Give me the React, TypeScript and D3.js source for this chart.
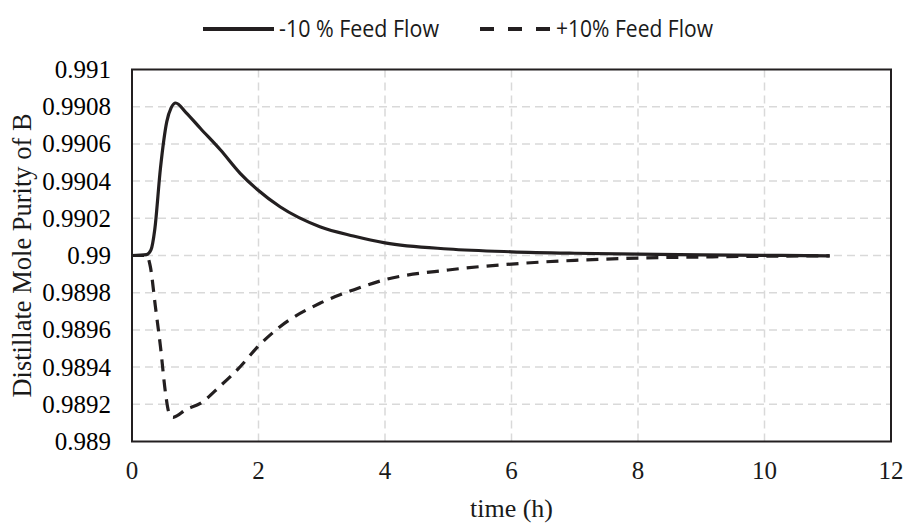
import React, { useEffect, useRef } from 'react'
import * as d3 from 'd3'

const minusTime = [0, 0.23, 0.3, 0.36, 0.45, 0.55, 0.62, 0.69, 0.85, 1.08, 1.4, 1.71, 1.99, 2.34, 2.97, 3.5, 4, 5, 6, 7, 8, 9, 10, 11.03]
const minusPurity = [0.99, 0.990005, 0.99003, 0.99014, 0.99047, 0.99072, 0.990795, 0.99082, 0.99077, 0.990684, 0.990567, 0.990442, 0.990352, 0.990262, 0.990155, 0.990105, 0.990068, 0.990035, 0.99002, 0.990012, 0.990007, 0.990003, 0.990001, 0.989998]

const plusTime = [0, 0.23, 0.29, 0.37, 0.45, 0.53, 0.58, 0.65, 0.86, 1.08, 1.4, 1.71, 1.99, 2.34, 2.97, 3.5, 4, 5, 6, 7, 8, 9, 10, 11.03]
const plusPurity = [0.99, 0.99, 0.98994, 0.989725, 0.98951, 0.98926, 0.98916, 0.98913, 0.989173, 0.989205, 0.9893, 0.989402, 0.98951, 0.989617, 0.989743, 0.989815, 0.98987, 0.989922, 0.989954, 0.989974, 0.989986, 0.989992, 0.989996, 0.989998]

const xTicks = [0, 2, 4, 6, 8, 10, 12]
const yTicks = [0.989, 0.9892, 0.9894, 0.9896, 0.9898, 0.99, 0.9902, 0.9904, 0.9906, 0.9908, 0.991]

const seriesNames = ['-10 % Feed Flow', '+10% Feed Flow']

const W = 908
const H = 527
const margin = { left: 132, right: 17, top: 69.5, bottom: 85.5 }

const x = d3.scaleLinear().domain([0, 12]).range([margin.left, W - margin.right])
const y = d3.scaleLinear().domain([0.989, 0.991]).range([H - margin.bottom, margin.top])

const serif = 'Liberation Serif, serif'

const App = () => {
  const ref = useRef(null)

  useEffect(() => {
    const svg = d3.select(ref.current).select('g.chart')
    svg.selectAll('*').remove()

    const ink = '#231f20'
    const grid = svg.append('g')
    grid.selectAll('line.v')
      .data(xTicks.slice(1, -1))
      .join('line')
      .attr('x1', d => x(d)).attr('x2', d => x(d))
      .attr('y1', y(0.991)).attr('y2', y(0.989))
      .attr('stroke', '#d9d9d9').attr('stroke-width', 1.5).attr('stroke-dasharray', '8,5')
    grid.selectAll('line.h')
      .data(yTicks.slice(1, -1))
      .join('line')
      .attr('x1', x(0)).attr('x2', x(12))
      .attr('y1', d => y(d)).attr('y2', d => y(d))
      .attr('stroke', '#d9d9d9').attr('stroke-width', 1.5).attr('stroke-dasharray', '8,5')

    svg.append('rect')
      .attr('x', x(0)).attr('y', y(0.991))
      .attr('width', x(12) - x(0)).attr('height', y(0.989) - y(0.991))
      .attr('fill', 'none').attr('stroke', ink).attr('stroke-width', 2)

    const line = d3.line<[number, number]>()
      .x(d => x(d[0])).y(d => y(d[1]))
      .curve(d3.curveMonotoneX)

    svg.append('path')
      .datum(plusTime.map((t, i) => [t, plusPurity[i]] as [number, number]))
      .attr('d', line)
      .attr('fill', 'none').attr('stroke', ink).attr('stroke-width', 3.2)
      .attr('stroke-dasharray', '12,8')

    svg.append('path')
      .datum(minusTime.map((t, i) => [t, minusPurity[i]] as [number, number]))
      .attr('d', line)
      .attr('fill', 'none').attr('stroke', ink).attr('stroke-width', 3.2)

    const yAxis = svg.append('g')
      .attr('font-family', serif).attr('font-size', 25)
    yAxis.selectAll('text')
      .data(yTicks)
      .join('text')
      .attr('x', 111).attr('y', d => y(d) + 8.5)
      .attr('text-anchor', 'end')
      .text(d => String(+d.toFixed(4)))

    // legend
    const sans = '"Liberation Sans Narrow", "Open Sans", sans-serif'
    const leg = svg.append('g')
    leg.append('line')
      .attr('x1', 203).attr('x2', 274).attr('y1', 29).attr('y2', 29)
      .attr('stroke', ink).attr('stroke-width', 4)
    leg.append('text')
      .attr('x', 279).attr('y', 37)
      .style('font-family', sans).style('font-size', '23px').attr('fill', '#1a1a1a')
      .attr('textLength', 160).attr('lengthAdjust', 'spacingAndGlyphs')
      .text(seriesNames[0])
    leg.append('line')
      .attr('x1', 480).attr('x2', 550).attr('y1', 29).attr('y2', 29)
      .attr('stroke', ink).attr('stroke-width', 4).attr('stroke-dasharray', '14,14')
    leg.append('text')
      .attr('x', 556).attr('y', 37)
      .style('font-family', sans).style('font-size', '23px').attr('fill', '#1a1a1a')
      .attr('textLength', 157).attr('lengthAdjust', 'spacingAndGlyphs')
      .text(seriesNames[1])
  }, [])

  return (
    <svg width={W} height={H} ref={ref} style={{ position: 'absolute', left: 0, top: 0 }}>
      <g className="chart" />
      <g fontFamily={serif} fontSize={25} fill="#1a1a1a">
        {xTicks.map(t => (
          <text key={t} x={x(t)} y={479} textAnchor="middle">{t}</text>
        ))}
      </g>
      <text x={(x(0) + x(12)) / 2} y={517} textAnchor="middle" fontFamily={serif} fontSize={26} fill="#1a1a1a">
        time (h)
      </text>
      <text transform={`translate(31, ${(y(0.989) + y(0.991)) / 2}) rotate(-90)`} textAnchor="middle"
        fontFamily={serif} fontSize={26.5} fill="#1a1a1a">
        Distillate Mole Purity of B
      </text>
    </svg>
  )
}

export default App
